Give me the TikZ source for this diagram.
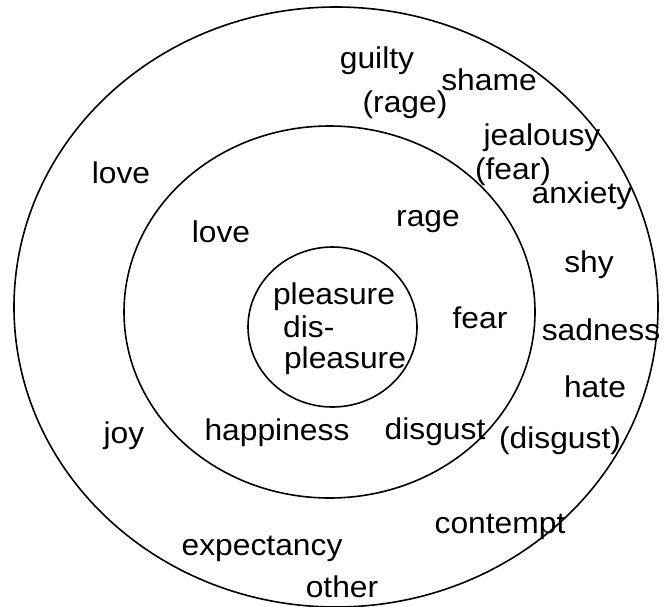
\documentclass[tikz,border=0pt]{standalone}
\usepackage{fontspec}
\setmainfont[FakeStretch=1.06]{Liberation Sans}
\begin{document}
\begin{tikzpicture}[x=1pt,y=-1pt,
  lbl/.style={anchor=base,inner sep=0pt,font=\fontsize{30}{32}\selectfont},
  lblw/.style={anchor=base west,inner sep=0pt,font=\fontsize{30}{32}\selectfont},
  ring/.style={draw=black,line width=1.6pt}]
\useasboundingbox (0,0) rectangle (669,607);
% circles (drawn as ellipses, as in the reference)
\draw[ring] (336,307) ellipse [x radius=322, y radius=300];
\draw[ring] (329.5,312) ellipse [x radius=205.5, y radius=186];
\draw[ring] (332.5,327) ellipse [x radius=84.5, y radius=80];
% inner circle
\node[lbl] (pl1) at (334,304) {pleasure};
\node[lblw] (dis) at (283,337) {dis-};
\node[lbl] (pl2) at (345,368) {pleasure};
% middle ring
\node[lbl] (love2) at (221,242) {love};
\node[lbl] (rage) at (428,226) {rage};
\node[lbl] (fear) at (480,328) {fear};
\node[lbl] (happy) at (277,440) {happiness};
\node[lbl] (disg) at (435,439) {disgust};
% outer ring
\node[lbl] (guilty) at (377,69) {guilty};
\node[lbl] (shame) at (489,91) {shame};
\node[lbl] (rage2) at (405,113) {(rage)};
\node[lbl] (jeal) at (542,146) {jealousy};
\node[lbl] (fear2) at (513,179) {(fear)};
\node[lbl] (anx) at (582,203) {anxiety};
\node[lbl] (love1) at (121,183) {love};
\node[lbl] (shy) at (589,272) {shy};
\node[lbl] (sad) at (601,340) {sadness};
\node[lbl] (hate) at (595,397) {hate};
\node[lbl] (joy) at (124,443) {joy};
\node[lbl] (disg2) at (560,448) {(disgust)};
\node[lbl] (cont) at (500,533) {contempt};
\node[lbl] (expt) at (262,555) {expectancy};
\node[lbl] (other) at (342,597) {other};
\end{tikzpicture}
\end{document}
